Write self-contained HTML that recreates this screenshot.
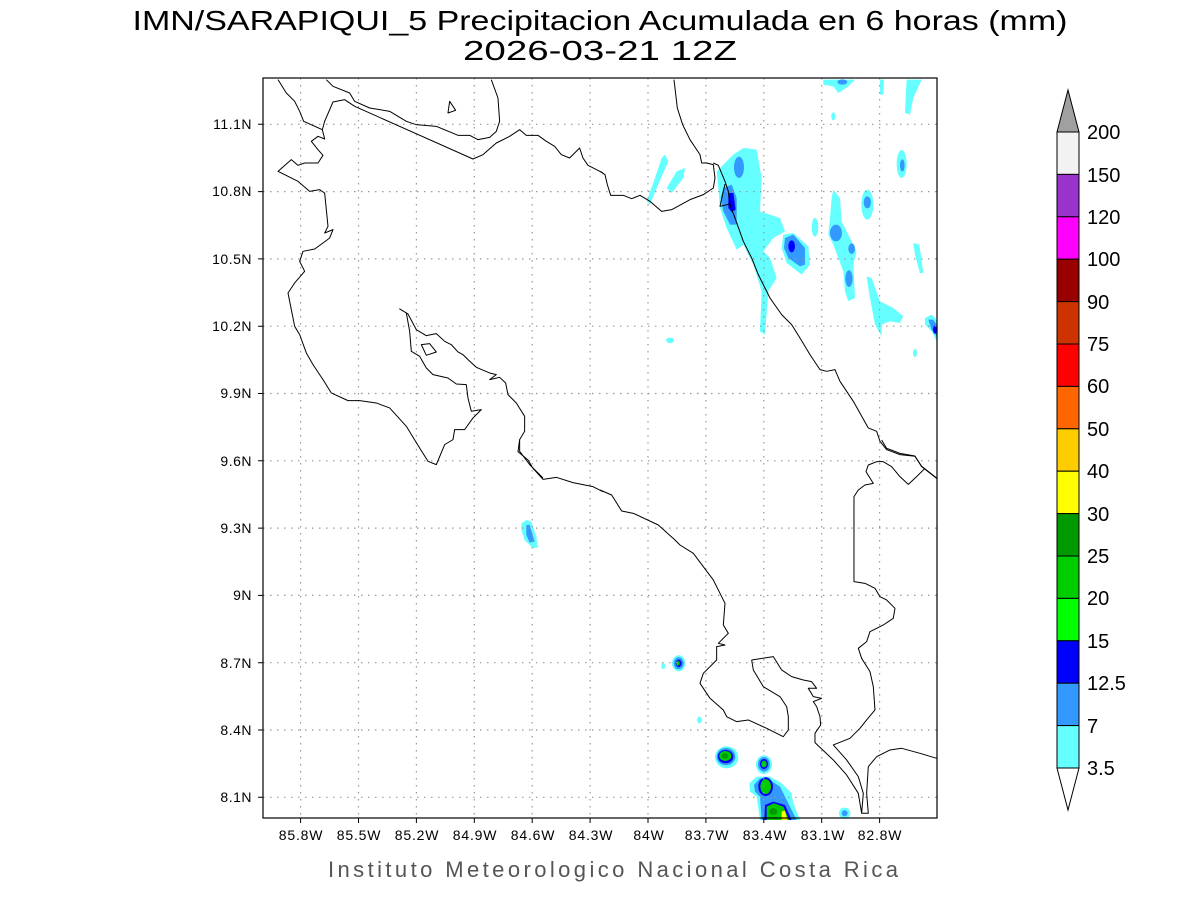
<!DOCTYPE html>
<html><head><meta charset="utf-8"><style>html,body{margin:0;padding:0;background:#fff}svg{display:block}</style></head>
<body>
<svg width="1200" height="900" viewBox="0 0 1200 900" xmlns="http://www.w3.org/2000/svg" font-family="Liberation Sans, sans-serif">
<rect width="1200" height="900" fill="#fff"/>
<text x="600" y="30" font-size="28" text-anchor="middle" textLength="935" lengthAdjust="spacingAndGlyphs" fill="#000">IMN/SARAPIQUI_5 Precipitacion Acumulada en 6 horas (mm)</text>
<text x="600" y="60" font-size="28" text-anchor="middle" textLength="274" lengthAdjust="spacingAndGlyphs" fill="#000">2026-03-21 12Z</text>

<g transform="translate(600,78) scale(0.3333)">
<g fill="#66ffff">
<polygon points="350,280 400,230 430,210 470,215 485,300 480,400 540,420 555,460 520,480 490,520 510,540 530,600 505,640 495,770 480,760 485,640 460,560 430,500 410,515 380,450 360,390 355,330"/>
<polygon points="550,470 580,465 625,505 630,560 605,590 560,555 545,510"/>
<polygon points="195,230 205,250 170,330 150,380 140,370 165,300 185,240"/>
<polygon points="200,330 230,280 255,270 250,300 215,345"/>
<polygon points="670,5 765,5 745,25 715,45 700,25 670,20"/>
<polygon points="840,5 852,5 850,50 840,50"/>
<polygon points="920,5 965,5 940,60 930,110 915,105"/>
<ellipse cx="700" cy="115" rx="6" ry="12"/>
<ellipse cx="905" cy="258" rx="15" ry="42"/>
<polygon points="700,335 720,360 725,430 750,480 770,520 760,560 765,660 745,670 735,640 730,580 700,500 685,470 690,420 695,360"/>
<ellipse cx="802" cy="380" rx="18" ry="45"/>
<ellipse cx="645" cy="448" rx="10" ry="28"/>
<polygon points="940,495 958,500 970,585 960,585 945,530"/>
<polygon points="800,595 815,600 840,670 880,690 910,715 900,735 870,730 845,740 845,775 825,740 810,660"/>
<polygon points="975,720 995,710 1010,725 1010,790 995,760 975,740"/>
<ellipse cx="945" cy="825" rx="6" ry="12"/>
<ellipse cx="210" cy="787" rx="12" ry="8"/>
</g>
<g fill="#3399ff">
<ellipse cx="417" cy="268" rx="15" ry="32"/>
<polygon points="370,330 395,320 410,360 410,440 390,440 370,400 362,360"/>
<polygon points="555,480 580,470 615,510 615,560 600,565 565,540 552,510"/>
<ellipse cx="708" cy="465" rx="18" ry="25"/>
<ellipse cx="755" cy="512" rx="10" ry="16"/>
<ellipse cx="747" cy="602" rx="11" ry="25"/>
<ellipse cx="802" cy="373" rx="11" ry="18"/>
<ellipse cx="907" cy="262" rx="7" ry="18"/>
<ellipse cx="727" cy="12" rx="15" ry="8"/>
<polygon points="985,725 1000,725 1010,740 1010,775 995,755"/>
</g>
<g fill="#0000ff">
<polygon points="385,345 400,345 407,395 395,402 385,390"/>
<ellipse cx="575" cy="505" rx="10" ry="18"/>
<ellipse cx="1005" cy="755" rx="6" ry="12"/>
</g>
</g>
<g transform="translate(263,440) scale(0.3333)">
<polygon fill="#66ffff" points="775,250 790,240 805,245 820,290 825,322 810,325 785,300 775,270"/>
<polygon fill="#3399ff" points="790,255 800,255 815,305 800,308 790,285"/>
</g>
<g transform="translate(600,440) scale(0.3333)">
<g fill="#66ffff">
<ellipse cx="236" cy="670" rx="20" ry="24"/>
<ellipse cx="190" cy="678" rx="6" ry="9"/>
<ellipse cx="298" cy="840" rx="7" ry="10"/>
<ellipse cx="380" cy="952" rx="35" ry="33"/>
<ellipse cx="492" cy="974" rx="24" ry="28"/>
<polygon points="448,1030 470,1010 510,1010 545,1030 575,1060 580,1090 600,1140 480,1140 470,1070 450,1055"/>
<ellipse cx="734" cy="1120" rx="17" ry="17"/>
</g>
<g fill="#3399ff">
<ellipse cx="236" cy="670" rx="15" ry="18"/>
<ellipse cx="378" cy="950" rx="28" ry="26"/>
<ellipse cx="492" cy="973" rx="18" ry="22"/>
<polygon points="462,1035 480,1015 510,1020 540,1040 560,1080 570,1100 590,1140 485,1140 480,1070 465,1055"/>
<ellipse cx="734" cy="1120" rx="9" ry="9"/>
</g>
<g fill="#0000ff">
<ellipse cx="236" cy="670" rx="9" ry="11"/>
<ellipse cx="377" cy="950" rx="23" ry="20"/>
<ellipse cx="492" cy="972" rx="12" ry="15"/>
<ellipse cx="497" cy="1040" rx="22" ry="28"/>
<polygon points="495,1095 520,1085 555,1095 575,1140 493,1140"/>
</g>
<g fill="#00cc00">
<ellipse cx="234" cy="670" rx="5" ry="7"/>
<ellipse cx="376" cy="948" rx="18" ry="15"/>
<ellipse cx="492" cy="972" rx="8" ry="10"/>
<ellipse cx="497" cy="1040" rx="16" ry="22"/>
<polygon points="500,1100 522,1090 550,1100 568,1140 500,1140"/>
</g>
<g fill="#009900"><ellipse cx="375" cy="948" rx="10" ry="8"/><ellipse cx="520" cy="1115" rx="12" ry="10"/></g>
<polygon fill="#ffff00" points="545,1115 555,1112 562,1140 545,1140"/>
</g>

<g stroke="#999" stroke-width="1.2" stroke-dasharray="1.5,5.5" fill="none">
<path d="M300.6,78V818M358.5,78V818M416.4,78V818M474.3,78V818M532.2,78V818M590.1,78V818M648,78V818M705.9,78V818M763.8,78V818M821.7,78V818M879.6,78V818"/>
<path d="M263,124.3H937M263,191.6H937M263,258.9H937M263,326.2H937M263,393.5H937M263,460.8H937M263,528.1H937M263,595.4H937M263,662.7H937M263,730H937M263,797.3H937"/>
</g>

<g fill="none" stroke="#000" stroke-width="3" stroke-linejoin="round">
<g transform="translate(263,78) scale(0.3333)">
<polyline points="45,5 70,45 95,70 110,100 122,130 178,155"/>
<polyline points="190,5 210,25 260,45 275,70 320,90 380,100 430,130 460,140 520,145 585,172 620,172 645,185 680,178 700,160 710,130 705,60 685,5"/>
<polyline points="178,155 185,130 210,72 245,65 275,85 630,243 660,230 700,195 740,175 770,155 790,172 825,172 850,190 875,205 895,230 920,240 950,210 960,240 975,262 1020,285"/>
<polygon points="555,105 560,70 578,97"/>
<polygon points="475,800 500,797 520,822 490,832"/>
<polyline points="840,1200 800,1160 770,1120 770,1085 785,1060 785,1015 760,975 735,950 728,915 710,898 680,905 700,890 680,885 640,868 615,845 600,830 585,822 565,800 545,790 520,767 490,773 460,755 435,708 410,693 430,705 440,760 445,820 470,835 490,870 510,890 555,900 580,918 610,920 615,960 625,1000 655,995 630,1020 605,1055 575,1055 570,1085 545,1100 520,1160 495,1150 470,1110 430,1045 380,990 340,975 290,968 255,968 205,945 180,905 150,860 130,825 110,770 95,745 85,695 75,645 95,615 125,580 110,550 120,520 155,513 180,495 200,480 210,455 185,465 195,445 190,395 185,345 170,335 140,340 105,310 45,280 85,245 105,262 125,255 165,255 180,232 165,215 145,190 165,175 185,183 178,155"/>
</g>
<g transform="translate(600,78) scale(0.3333)">
<polyline points="0,280 15,290 22,320 32,352 70,352 95,362 120,352 150,370 185,400 215,395 270,365 310,350 340,330 345,300 340,260 320,255 305,255 300,230 270,185 248,140 232,90 222,5"/>
<polyline points="340,255 355,262 375,310 385,340 390,380 405,420 430,490 455,540 475,590 490,620 510,660 545,710 575,740 600,780 630,830 660,875 680,880 705,875 720,910 760,970 805,1050 830,1060 840,1090 860,1115 900,1130 945,1135 965,1165 1010,1200"/>
<polyline points="375,318 360,385 390,378"/>
</g>
<g transform="translate(600,440) scale(0.3333)">
<polyline points="845,0 860,25 900,40 945,48 965,80 1010,115"/>
<polyline points="975,85 950,110 925,133 900,110 875,80 850,65 830,65 805,75 798,95 820,130 795,135 775,150 762,170 762,425 795,430 825,445 840,470 860,480 885,505 880,535 850,555 810,575 800,605 775,625 785,655 810,695 820,740 825,810 800,840 780,865 750,895 700,915 740,960 775,1010 790,1060 785,1120 805,1120 800,1060 805,980 830,950 870,930 905,925 960,940 1010,955"/>
<polyline points="455,660 520,650 545,690 575,710 610,720 635,725 650,745 625,745 640,770 665,775 640,785 650,800 660,830 662,855 645,880 645,908 700,960 740,1005 775,1060 785,1120"/>
<polyline points="455,660 460,690 490,740 540,770 560,800 565,830 565,870 550,890 500,865 445,840 410,845 380,830 370,810 330,775 300,730 310,700 350,660 350,620 375,615 355,610 385,580 370,555 375,490 360,460 340,420 310,380 280,340 240,315 225,300 175,255 100,220 65,213 35,165 0,150"/>
</g>
<g transform="translate(263,440) scale(0.3333)">
<polyline points="1020,155 990,140 930,128 880,112 840,118 810,85 795,60 765,35 770,0"/>
</g>
</g>

<rect x="263" y="78" width="674" height="740" fill="none" stroke="#000" stroke-width="1.2"/>
<g stroke="#000" stroke-width="1">
<path d="M300.6,818v5M358.5,818v5M416.4,818v5M474.3,818v5M532.2,818v5M590.1,818v5M648,818v5M705.9,818v5M763.8,818v5M821.7,818v5M879.6,818v5"/>
<path d="M258,124.3h5M258,191.6h5M258,258.9h5M258,326.2h5M258,393.5h5M258,460.8h5M258,528.1h5M258,595.4h5M258,662.7h5M258,730h5M258,797.3h5"/>
</g>
<g font-size="14" fill="#000" text-anchor="middle" letter-spacing="0.8">
<text x="301" y="840">85.8W</text><text x="359" y="840">85.5W</text><text x="417" y="840">85.2W</text><text x="475" y="840">84.9W</text><text x="533" y="840">84.6W</text><text x="591" y="840">84.3W</text><text x="649" y="840">84W</text><text x="707" y="840">83.7W</text><text x="765" y="840">83.4W</text><text x="823" y="840">83.1W</text><text x="880" y="840">82.8W</text>
</g>
<g font-size="14" fill="#000" text-anchor="end" letter-spacing="0.5">
<text x="252" y="129">11.1N</text><text x="252" y="196">10.8N</text><text x="252" y="264">10.5N</text><text x="252" y="331">10.2N</text><text x="252" y="398">9.9N</text><text x="252" y="466">9.6N</text><text x="252" y="533">9.3N</text><text x="252" y="600">9N</text><text x="252" y="668">8.7N</text><text x="252" y="735">8.4N</text><text x="252" y="802">8.1N</text>
</g>

<g stroke="#000" stroke-width="1">
<polygon points="1057,132 1068,90 1079,132" fill="#a0a0a0"/>
<rect x="1057" y="132" width="22" height="42.4" fill="#f2f2f2"/>
<rect x="1057" y="174.4" width="22" height="42.4" fill="#9933cc"/>
<rect x="1057" y="216.8" width="22" height="42.4" fill="#ff00ff"/>
<rect x="1057" y="259.2" width="22" height="42.4" fill="#990000"/>
<rect x="1057" y="301.6" width="22" height="42.4" fill="#cc3300"/>
<rect x="1057" y="344" width="22" height="42.4" fill="#ff0000"/>
<rect x="1057" y="386.4" width="22" height="42.4" fill="#ff6600"/>
<rect x="1057" y="428.8" width="22" height="42.4" fill="#ffcc00"/>
<rect x="1057" y="471.2" width="22" height="42.4" fill="#ffff00"/>
<rect x="1057" y="513.6" width="22" height="42.4" fill="#009900"/>
<rect x="1057" y="556" width="22" height="42.4" fill="#00cc00"/>
<rect x="1057" y="598.4" width="22" height="42.4" fill="#00ff00"/>
<rect x="1057" y="640.8" width="22" height="42.4" fill="#0000ff"/>
<rect x="1057" y="683.2" width="22" height="42.4" fill="#3399ff"/>
<rect x="1057" y="725.6" width="22" height="42.4" fill="#66ffff"/>
<polygon points="1057,768 1068,810 1079,768" fill="#fff"/>
</g>
<g font-size="20" fill="#000">
<text x="1087" y="139">200</text><text x="1087" y="182">150</text><text x="1087" y="224">120</text><text x="1087" y="266">100</text><text x="1087" y="309">90</text><text x="1087" y="351">75</text><text x="1087" y="393">60</text><text x="1087" y="436">50</text><text x="1087" y="478">40</text><text x="1087" y="521">30</text><text x="1087" y="563">25</text><text x="1087" y="605">20</text><text x="1087" y="648">15</text><text x="1087" y="690">12.5</text><text x="1087" y="733">7</text><text x="1087" y="775">3.5</text>
</g>

<text x="613" y="877" font-size="22" text-anchor="middle" fill="#555" textLength="570" lengthAdjust="spacing">Instituto Meteorologico Nacional Costa Rica</text>
</svg>
</body></html>
